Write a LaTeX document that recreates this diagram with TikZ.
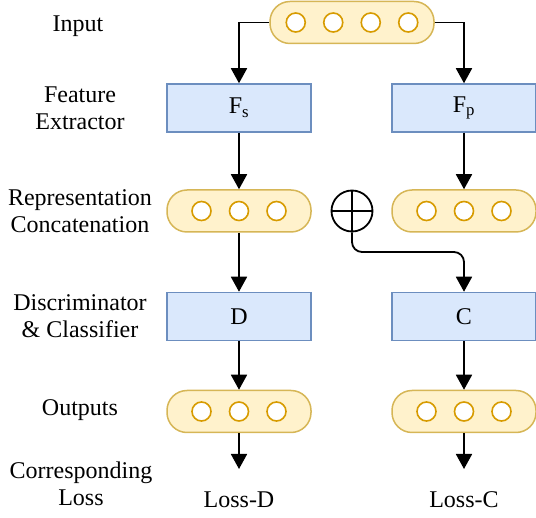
\documentclass[tikz,border=0pt]{standalone}
\usepackage{fontspec}
\setmainfont{Liberation Serif}
\usetikzlibrary{arrows.meta}

\definecolor{boxfill}{HTML}{DAE8FC}
\definecolor{boxline}{HTML}{6C8EBF}
\definecolor{pillfill}{HTML}{FFF2CC}
\definecolor{pillline}{HTML}{D6B656}
\definecolor{dotline}{HTML}{D79B00}

\begin{document}
\begin{tikzpicture}[x=1pt,y=-1pt,text centered,
    block/.style={draw=boxline,fill=boxfill,line width=1.5pt,minimum width=144pt,minimum height=48pt,inner sep=0pt},
    pill/.style={draw=pillline,fill=pillfill,line width=1.5pt,rounded corners=20pt,minimum width=144pt,minimum height=42pt,inner sep=0pt},
    dot/.style={circle,draw=dotline,fill=white,line width=1.6pt,minimum size=19pt,inner sep=0pt},
    arr/.style={line width=1.8pt,-{Triangle[length=15pt,width=16pt]}},
    lab/.style={align=center,anchor=base}]
    \useasboundingbox (0,0) rectangle (536,518);
    \begin{scope}[font=\fontsize{24}{27.5}\selectfont]

    % row labels (base = last line)
    \node[lab] (tInput) at (78,32) {Input};
    \node[lab] (tFeat) at (80,130) {Feature\\Extractor};
    \node[lab] (tRep) at (80,233) {Representation\\Concatenation};
    \node[lab] (tDisc) at (80,338) {Discriminator\\\& Classifier};
    \node[lab] (tOut) at (80,416) {Outputs};
    \node[lab] (tLoss) at (81,506) {Corresponding\\Loss};

    \node[pill,minimum width=164pt] (inp) at (352,22.5) {};
    \foreach \i/\dx in {1/-56.25,2/-18.75,3/18.75,4/56.25}
        \node[dot] (inp-\i) at ([xshift=\dx pt]inp.center) {};

    \node[block] (Fs) at (239,108) {F\textsubscript{s}};
    \node[block] (Fp) at (464,108) {F\textsubscript{p}};

    \node[pill] (repS) at (239,211) {};
    \node[pill] (repP) at (464,211) {};
    \node[circle,draw,line width=1.8pt,minimum size=41pt,inner sep=0pt,
        path picture={\draw[line width=1.8pt] (path picture bounding box.north) -- (path picture bounding box.south)
            (path picture bounding box.west) -- (path picture bounding box.east);}] (plus) at (352,211) {};

    \node[block] (D) at (239,316.5) {D};
    \node[block] (C) at (464,316.5) {C};

    \node[pill] (outD) at (239,411.5) {};
    \node[pill] (outC) at (464,411.5) {};

    \foreach \n in {repS,repP,outD,outC}
        \foreach \i/\dx in {1/-37.5,2/0,3/37.5}
            \node[dot] (\n-\i) at ([xshift=\dx pt]\n.center) {};

    \coordinate (endD) at (239,469);
    \coordinate (endC) at (464,469);
    \coordinate (bendC) at (464,252);
    \node[anchor=base] (lossD) at (239,508) {Loss-D};
    \node[anchor=base] (lossC) at (464,508) {Loss-C};

    \draw [arr] (inp.west) -| (Fs.north);
    \draw [arr] (inp.east) -| (Fp.north);
    \draw [arr] (Fs) -- (repS);
    \draw [arr] (Fp) -- (repP);
    \draw [arr] (repS) -- (D);
    \draw [arr,rounded corners=10pt] (plus.south) |- (bendC) -- (C.north);
    \draw [arr] (D) -- (outD);
    \draw [arr] (C) -- (outC);
    \draw [arr] (outD) -- (endD);
    \draw [arr] (outC) -- (endC);

    \end{scope}
\end{tikzpicture}
\end{document}
